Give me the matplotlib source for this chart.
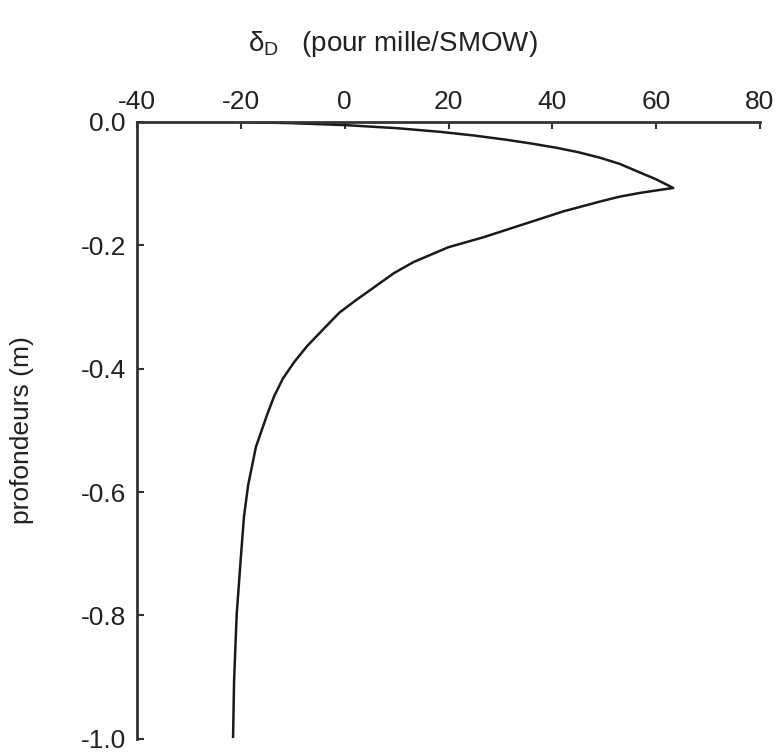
import numpy as np
import matplotlib
matplotlib.use('Agg')
import matplotlib.pyplot as plt

plt.rcParams['font.family'] = ['Liberation Sans', 'DejaVu Sans']
plt.rcParams['mathtext.fontset'] = 'custom'
plt.rcParams['mathtext.rm'] = 'Liberation Sans'
plt.rcParams['mathtext.it'] = 'Liberation Sans'
plt.rcParams['axes.unicode_minus'] = False

# profil de deltaD
delta_d = [-20, -10, 0, 10, 18.4, 25, 31.3, 36, 40.9, 45, 49.2, 53, 56.9, 60, 63.3,
           60, 56.9, 53, 49.2, 42.1, 34.4, 26.7, 20, 13.3, 9.5, 6, 2, -1, -4,
           -7.2, -9.7, -11.9, -13.6, -15, -17.1, -18.6, -19.4, -20, -20.8, -21.3, -21.5]
profondeur = [0, -0.002, -0.005, -0.010, -0.016, -0.022, -0.029, -0.035, -0.042, -0.049, -0.058,
              -0.068, -0.082, -0.093, -0.107,
              -0.111, -0.115, -0.121, -0.129, -0.145, -0.166, -0.187, -0.203, -0.227, -0.245,
              -0.266, -0.29, -0.309, -0.335, -0.363, -0.389, -0.416, -0.445, -0.476, -0.527,
              -0.589, -0.64, -0.706, -0.798, -0.905, -0.997]

xticks = [-40, -20, 0, 20, 40, 60, 80]
yticks = [0.0, -0.2, -0.4, -0.6, -0.8, -1.0]

fig = plt.figure(figsize=(7.79, 7.53), dpi=100)
ax = fig.add_axes([0.1759, 0.019, 0.7997, 0.819])

ax.plot(delta_d, profondeur, color='#1a1a1a', lw=1.8)

ax.set_xlim(-40, 80)
ax.set_ylim(-1.0, 0.0)
ax.set_xticks(xticks)
ax.set_yticks(yticks)
ax.set_yticklabels([f'{v:.1f}' for v in yticks])

ax.xaxis.tick_top()
ax.xaxis.set_label_position('top')
for s in ['right', 'bottom']:
    ax.spines[s].set_visible(False)
for s in ['top', 'left']:
    ax.spines[s].set_linewidth(2)
    ax.spines[s].set_color('#333333')

ax.tick_params(axis='both', direction='in', length=5, width=1.5, color='#333333',
               labelsize=19, labelcolor='#222222')
ax.tick_params(axis='x', pad=6)
ax.tick_params(axis='y', pad=8)

ax.set_xlabel(r'$\delta_{\mathrm{D}}$   (pour mille/SMOW)', fontsize=20, color='#222222')
ax.xaxis.set_label_coords(0.41, 1.115)
ax.set_ylabel('profondeurs (m)', fontsize=19, color='#222222')
ax.yaxis.set_label_coords(-0.165, 0.5)

fig.savefig('out.png', dpi=100)
